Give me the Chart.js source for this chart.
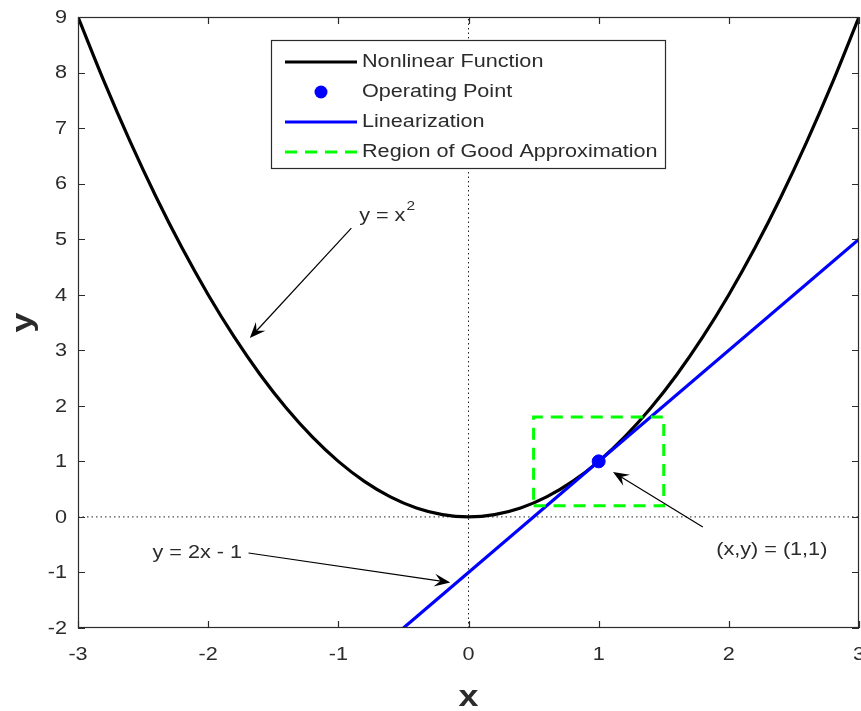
<!DOCTYPE html>
<html>
<head>
<meta charset="utf-8">
<script src="https://cdn.jsdelivr.net/npm/chart.js@4/dist/chart.umd.min.js"></script>
<style>
  html, body { margin: 0; padding: 0; background: #fff; overflow: hidden; }
</style>
</head>
<body>
<canvas id="c" width="861" height="711"></canvas>
<script>
// values
const curveX = [-3, -2.8, -2.6, -2.4, -2.2, -2, -1.8, -1.6, -1.4, -1.2, -1, -0.8, -0.6, -0.4, -0.2, 0,
                0.2, 0.4, 0.6, 0.8, 1, 1.2, 1.4, 1.6, 1.8, 2, 2.2, 2.4, 2.6, 2.8, 3];
const curveY = [9, 7.84, 6.76, 5.76, 4.84, 4, 3.24, 2.56, 1.96, 1.44, 1, 0.64, 0.36, 0.16, 0.04, 0,
                0.04, 0.16, 0.36, 0.64, 1, 1.44, 1.96, 2.56, 3.24, 4, 4.84, 5.76, 6.76, 7.84, 9];
const opX = [1];
const opY = [1];
const linX = [-0.5, 3];
const linY = [-2, 5];
const boxX = [0.5, 1.5, 1.5, 0.5, 0.5];
const boxY = [0.2, 0.2, 1.8, 1.8, 0.2];
const xTicks = [-3, -2, -1, 0, 1, 2, 3];
const yTicks = [-2, -1, 0, 1, 2, 3, 4, 5, 6, 7, 8, 9];
const seriesNames = ['Nonlinear Function', 'Operating Point', 'Linearization', 'Region of Good Approximation'];
const xTitle = 'x';
const yTitle = 'y';

// annotation arrows: tail -> tip, in data units
const arrowTail = [[-0.9, 5.2], [-1.69, -0.65], [1.8, -0.18]];
const arrowTip = [[-1.68, 3.22], [-0.14, -1.18], [1.11, 0.81]];
const noteText = ['y = x', 'y = 2x - 1', '(x,y) = (1,1)'];
const notePos = [[-0.84, 5.42], [-1.74, -0.65], [2.33, -0.6]];
const noteAlign = ['left', 'right', 'center'];

const pts = (xs, ys) => xs.map((x, i) => ({ x: x, y: ys[i] }));
const FONT = '"Liberation Sans", Arial, Helvetica, sans-serif';
const INK = '#2b2b2b';
const SX = 1.235; // text in the picture is stretched sideways

const datasets = [
  { label: seriesNames[3], data: pts(boxX, boxY), borderColor: '#00ff00', borderWidth: 3,
    borderDash: [12, 8], pointRadius: 0, fill: false, tension: 0 },
  { label: seriesNames[1], data: pts(opX, opY), showLine: false, pointRadius: 6.5,
    pointBackgroundColor: '#0000ff', pointBorderColor: '#0000ff', borderColor: '#0000ff' },
  { label: seriesNames[2], data: pts(linX, linY), borderColor: '#0000ff', borderWidth: 3.2,
    pointRadius: 0, fill: false },
  { label: seriesNames[0], data: pts(curveX, curveY), borderColor: '#000000', borderWidth: 3.2,
    pointRadius: 0, fill: false, cubicInterpolationMode: 'monotone' },
  { label: 'zx', data: pts([-3, 3], [0, 0]), borderColor: '#222', borderWidth: 1,
    borderDash: [1.5, 3], pointRadius: 0 },
  { label: 'zy', data: pts([0, 0], [-2, 9]), borderColor: '#222', borderWidth: 1,
    borderDash: [1.5, 3], pointRadius: 0 }
];

function sText(ctx, s, x, y, align, size, weight) {
  ctx.save();
  ctx.font = (weight || 'normal') + ' ' + size + 'px ' + FONT;
  const w = ctx.measureText(s).width * SX;
  const left = align === 'left' ? x : align === 'right' ? x - w : x - w / 2;
  ctx.translate(left, y);
  ctx.scale(SX, 1);
  ctx.textAlign = 'left';
  ctx.textBaseline = 'middle';
  ctx.fillText(s, 0, 0);
  ctx.restore();
  return w;
}

function drawArrow(ctx, x1, y1, x2, y2) {
  const a = Math.atan2(y2 - y1, x2 - x1);
  const L = 16, W = 6.5;
  ctx.beginPath();
  ctx.moveTo(x1, y1);
  ctx.lineTo(x2 - Math.cos(a) * L * 0.6, y2 - Math.sin(a) * L * 0.6);
  ctx.stroke();
  ctx.save();
  ctx.translate(x2, y2);
  ctx.rotate(a);
  ctx.beginPath();
  ctx.moveTo(0, 0);
  ctx.lineTo(-L, -W);
  ctx.lineTo(-L * 0.62, 0);
  ctx.lineTo(-L, W);
  ctx.closePath();
  ctx.fill();
  ctx.restore();
}

const decorPlugin = {
  id: 'decor',
  afterDraw(chart) {
    const { ctx, chartArea: ca, scales: { x, y } } = chart;
    ctx.save();

    // axes box with inward ticks
    ctx.strokeStyle = INK;
    ctx.lineWidth = 1.2;
    ctx.strokeRect(ca.left + 0.5, ca.top + 0.5, ca.right - ca.left - 1, ca.bottom - ca.top - 1);
    ctx.beginPath();
    x.ticks.forEach(t => {
      const p = Math.round(x.getPixelForValue(t.value)) + 0.5;
      ctx.moveTo(p, ca.bottom); ctx.lineTo(p, ca.bottom - 7);
      ctx.moveTo(p, ca.top); ctx.lineTo(p, ca.top + 7);
    });
    y.ticks.forEach(t => {
      const p = Math.round(y.getPixelForValue(t.value)) + 0.5;
      ctx.moveTo(ca.left, p); ctx.lineTo(ca.left + 7, p);
      ctx.moveTo(ca.right, p); ctx.lineTo(ca.right - 7, p);
    });
    ctx.stroke();

    // tick labels and axis titles
    ctx.fillStyle = INK;
    x.ticks.forEach(t => sText(ctx, String(t.value), x.getPixelForValue(t.value), ca.bottom + 27, 'center', 17.5));
    y.ticks.forEach(t => sText(ctx, String(t.value), ca.left - 11, y.getPixelForValue(t.value) + 1, 'right', 17.5));
    sText(ctx, xTitle, (ca.left + ca.right) / 2, ca.bottom + 70, 'center', 29, 'bold');
    ctx.save();
    ctx.translate(24, (ca.top + ca.bottom) / 2);
    ctx.rotate(-Math.PI / 2);
    sText(ctx, yTitle, 0, 0, 'center', 29, 'bold');
    ctx.restore();

    // annotations
    ctx.strokeStyle = '#000';
    ctx.fillStyle = '#000';
    ctx.lineWidth = 1.2;
    arrowTail.forEach((t, i) => {
      drawArrow(ctx, x.getPixelForValue(t[0]), y.getPixelForValue(t[1]),
        x.getPixelForValue(arrowTip[i][0]), y.getPixelForValue(arrowTip[i][1]));
    });
    ctx.fillStyle = INK;
    noteText.forEach((s, i) => {
      const tx = x.getPixelForValue(notePos[i][0]);
      const ty = y.getPixelForValue(notePos[i][1]);
      const w = sText(ctx, s, tx, ty, noteAlign[i], 17.5);
      if (i === 0) sText(ctx, '2', tx + w + 1, ty - 9, 'left', 12.5);
    });

    // legend box
    const lx = 271, ly = 40, lw = 394, lh = 128;
    ctx.fillStyle = '#fff';
    ctx.fillRect(lx, ly, lw, lh);
    ctx.strokeStyle = INK;
    ctx.lineWidth = 1.2;
    ctx.strokeRect(lx + 0.5, ly + 0.5, lw, lh);
    const order = [3, 1, 2, 0];
    order.forEach((di, row) => {
      const ds = chart.data.datasets[di];
      const cy = ly + 22 + row * 30;
      if (ds.showLine === false) {
        ctx.fillStyle = ds.pointBackgroundColor;
        ctx.beginPath();
        ctx.arc(lx + 50, cy, 6.5, 0, Math.PI * 2);
        ctx.fill();
      } else {
        ctx.strokeStyle = ds.borderColor;
        ctx.lineWidth = ds.borderWidth;
        ctx.setLineDash(ds.borderDash || []);
        ctx.beginPath();
        ctx.moveTo(lx + 14, cy);
        ctx.lineTo(lx + 86, cy);
        ctx.stroke();
        ctx.setLineDash([]);
      }
      ctx.fillStyle = INK;
      sText(ctx, ds.label, lx + 91, cy, 'left', 17.5);
    });
    ctx.restore();
  }
};

new Chart(document.getElementById('c'), {
  type: 'line',
  data: { datasets: datasets },
  options: {
    responsive: false,
    animation: false,
    devicePixelRatio: 1,
    layout: { autoPadding: false, padding: { top: 17, right: 2, left: 0, bottom: 0 } },
    plugins: { legend: { display: false }, tooltip: { enabled: false } },
    scales: {
      x: {
        type: 'linear', min: -3, max: 3,
        afterBuildTicks: s => { s.ticks = xTicks.map(v => ({ value: v })); },
        afterFit: s => { s.height = 83; },
        grid: { display: false },
        border: { display: false },
        ticks: { display: false }
      },
      y: {
        type: 'linear', min: -2, max: 9,
        afterBuildTicks: s => { s.ticks = yTicks.map(v => ({ value: v })); },
        afterFit: s => { s.width = 78; },
        grid: { display: false },
        border: { display: false },
        ticks: { display: false }
      }
    }
  },
  plugins: [decorPlugin]
});
</script>
</body>
</html>
